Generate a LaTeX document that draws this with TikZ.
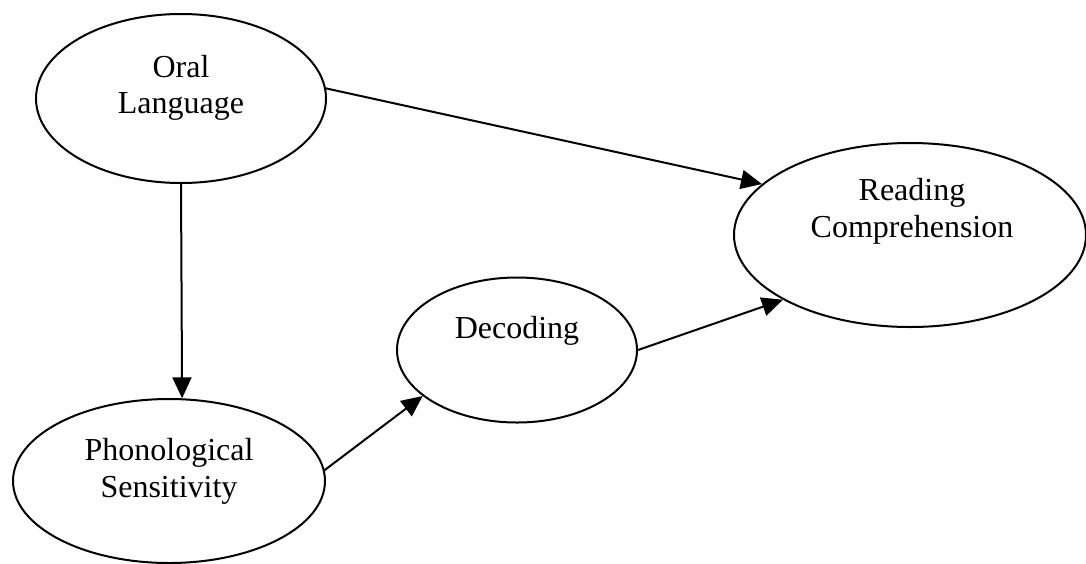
\documentclass[tikz,border=0pt]{standalone}
\usepackage{fontspec}
\setmainfont{Liberation Serif}
\usetikzlibrary{shapes.geometric,arrows.meta}
\begin{document}
\begin{tikzpicture}[x=1pt,y=-1pt,
  oval/.style={draw=black,line width=2pt,ellipse,inner sep=0pt},
  lbl/.style={anchor=base,inner sep=0pt,font=\fontsize{32}{36}\selectfont},
  link/.style={line width=2pt,-{Triangle[length=21pt,width=19pt]}}]
\useasboundingbox (0,0) rectangle (1086,563);
\node[oval,minimum width=290pt,minimum height=169pt] (oral) at (181,98.5) {};
\node[oval,minimum width=352pt,minimum height=184pt] (read) at (910,235) {};
\node[oval,minimum width=240pt,minimum height=145pt] (dec) at (517,350) {};
\node[oval,minimum width=312pt,minimum height=164pt] (phon) at (169,481) {};
\node[lbl] (oralA) at (181,77) {Oral};
\node[lbl] (oralB) at (181,113) {Language};
\node[lbl] (readA) at (912,200) {Reading};
\node[lbl] (readB) at (912,237) {Comprehension};
\node[lbl] (decA) at (517,338) {Decoding};
\node[lbl] (phonA) at (169,460) {Phonological};
\node[lbl] (phonB) at (169,497) {Sensitivity};
\draw[link] (oral.south) -- (phon.81.7);
\draw[link] (oral.4.6) -- (read.161.2);
\draw[link] (phon.4.1) -- (dec.206.8);
\draw[link] (dec.east) -- (read.207.6);
\end{tikzpicture}
\end{document}
